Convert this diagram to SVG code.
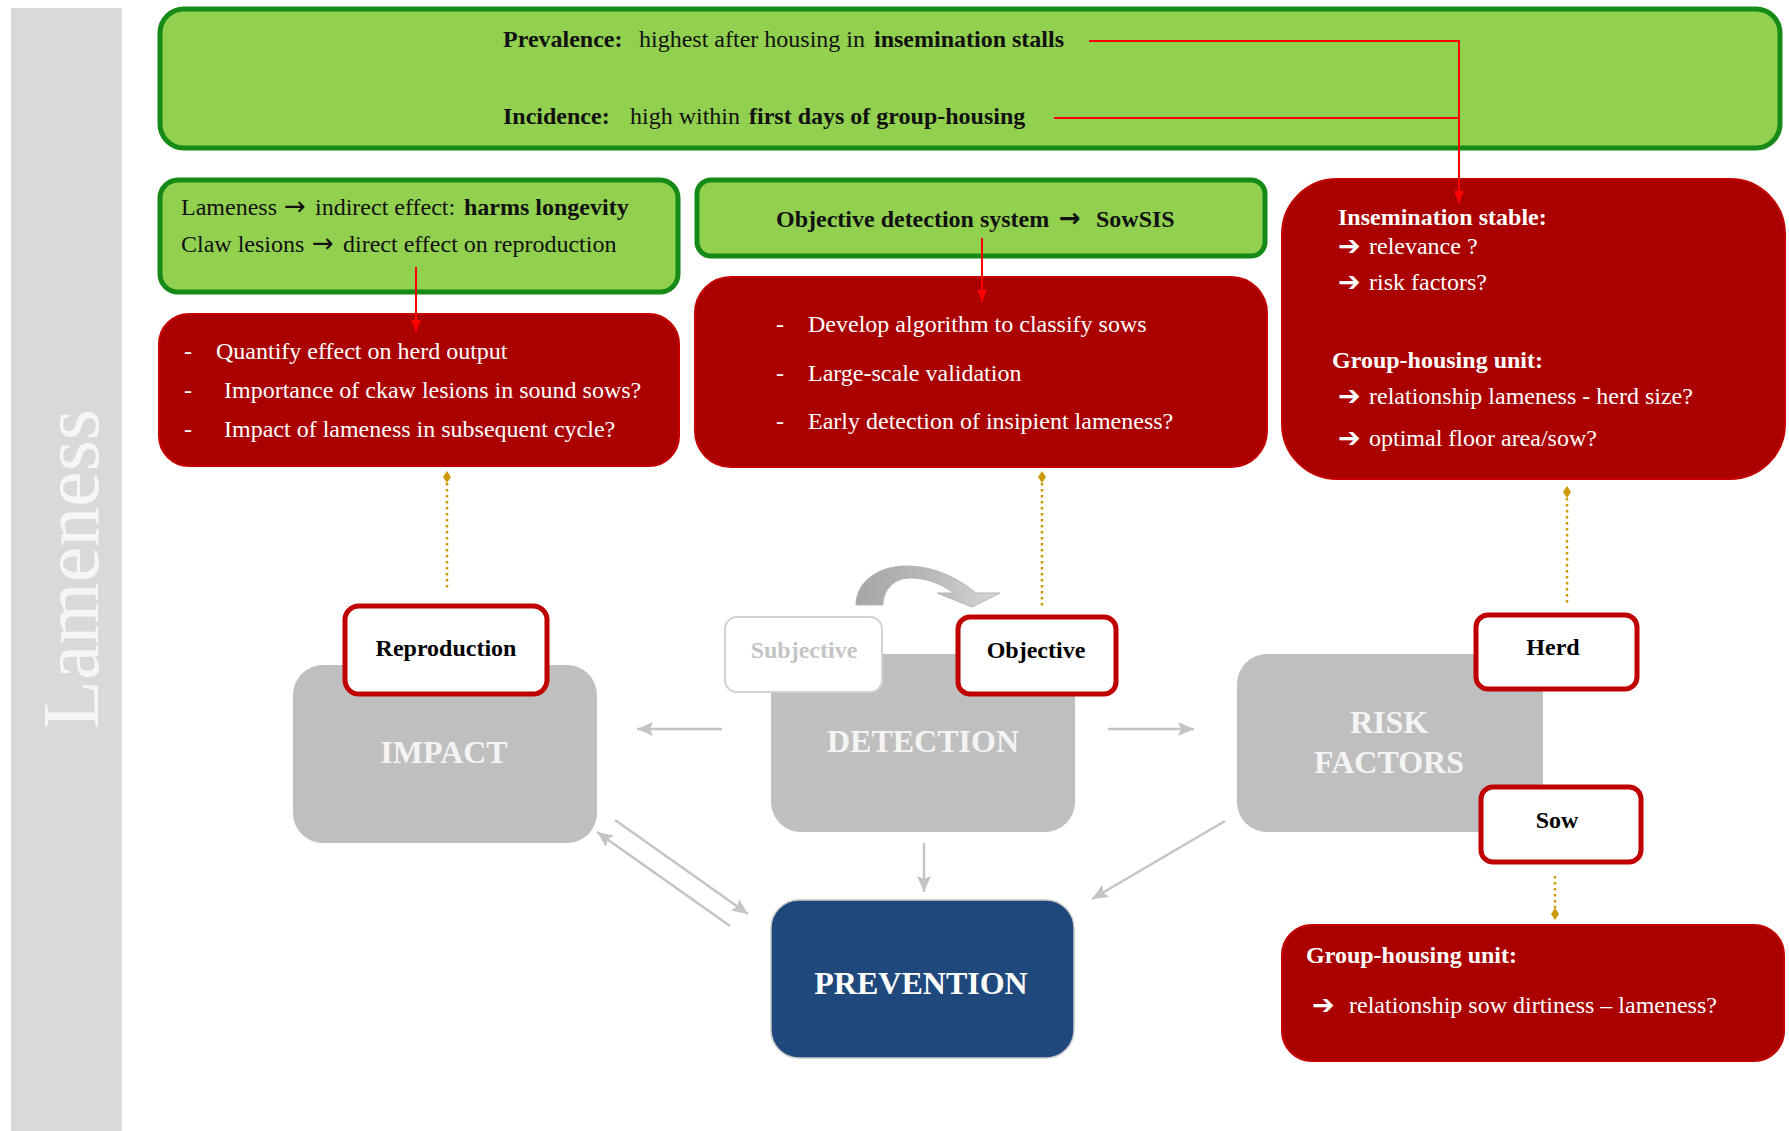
<svg xmlns="http://www.w3.org/2000/svg" width="1789" height="1131" viewBox="0 0 1789 1131">
  <style>
    text { font-family: "Liberation Serif", "Times New Roman", serif; }
    .b { font-weight: bold; }
    .green { fill: #92d050; stroke: #168a16; stroke-width: 5; }
    .red { fill: #aa0000; stroke: #c40000; stroke-width: 2; }
    .grey { fill: #bfbfbf; }
    .tag { fill: #ffffff; stroke: #c00000; stroke-width: 5; }
    .t24 { font-size: 24px; fill: #111111; }
    .w24 { font-size: 24px; fill: #ffffff; }
    .head { font-size: 32px; font-weight: bold; fill: #f4f4f4; text-anchor: middle; }
    .tagtxt { font-size: 24px; font-weight: bold; fill: #000000; text-anchor: middle; }
    .arr { font-family: "DejaVu Sans", sans-serif; font-weight: bold; font-size: 27px; fill: #ffffff; }
    .thin { font-family: "DejaVu Sans", sans-serif; font-size: 26px; }
    .redline { fill: none; stroke: #ff0000; stroke-width: 2; }
    .dot { fill: none; stroke: #cc9a06; stroke-width: 2.5; stroke-dasharray: 2.5 3.5; }
    .gline { fill: none; stroke: #c4c4c4; stroke-width: 2.5; }
  </style>
  <defs>
    <marker id="redArrow" markerUnits="userSpaceOnUse" viewBox="0 0 12 10" refX="12" refY="5" markerWidth="12" markerHeight="10" orient="auto">
      <path d="M0,0 L12,5 L0,10 z" fill="#ff0000"/>
    </marker>
    <marker id="greyArrow" markerUnits="userSpaceOnUse" viewBox="0 0 16 14" refX="16" refY="7" markerWidth="16" markerHeight="14" orient="auto">
      <path d="M0,0 L16,7 L0,14 L3,7 z" fill="#c4c4c4"/>
    </marker>
    <marker id="diamond" markerUnits="userSpaceOnUse" viewBox="-7 -5 14 10" refX="0" refY="0" markerWidth="14" markerHeight="10" orient="auto">
      <path d="M-6,0 L0,-4 L6,0 L0,4 z" fill="#cc9a06"/>
    </marker>
    <linearGradient id="curveFill" x1="0" y1="0" x2="1" y2="0">
      <stop offset="0" stop-color="#a6a6a6"/>
      <stop offset="0.5" stop-color="#b8b8b8"/>
      <stop offset="1" stop-color="#d6d6d6"/>
    </linearGradient>
  </defs>

  <rect width="1789" height="1131" fill="#ffffff"/>

  <!-- side band -->
  <g id="side-band">
    <rect x="11" y="8" width="111" height="1123" fill="#d9d9d9"/>
    <text transform="translate(98,569) rotate(-90)" font-size="80" fill="#f6f6f6" text-anchor="middle">Lameness</text>
  </g>

  <!-- top summary -->
  <g id="summary">
    <rect class="green" x="160" y="9" width="1620" height="139" rx="24"/>
    <text class="t24" y="47"><tspan class="b" x="503">Prevalence:</tspan><tspan x="639">highest after housing in </tspan><tspan class="b" x="874">insemination stalls</tspan></text>
    <text class="t24" y="124"><tspan class="b" x="503">Incidence:</tspan><tspan x="630">high within </tspan><tspan class="b" x="749">first days of group-housing</tspan></text>
  </g>

  <!-- impact notes -->
  <g id="impact-note">
    <rect class="green" x="160" y="180" width="518" height="112" rx="18"/>
    <text class="t24" y="215"><tspan x="181">Lameness</tspan><tspan class="thin" x="284">→</tspan><tspan x="315">indirect effect: </tspan><tspan class="b" x="464">harms longevity</tspan></text>
    <text class="t24" y="252"><tspan x="181">Claw lesions</tspan><tspan class="thin" x="312">→</tspan><tspan x="343">direct effect on reproduction</tspan></text>
  </g>

  <g id="impact-questions">
    <rect class="red" x="159" y="314" width="520" height="152" rx="30"/>
    <text class="w24" y="359"><tspan x="184">-</tspan><tspan x="216">Quantify effect on herd output</tspan></text>
    <text class="w24" y="398"><tspan x="184">-</tspan><tspan x="224">Importance of ckaw lesions in sound sows?</tspan></text>
    <text class="w24" y="437"><tspan x="184">-</tspan><tspan x="224">Impact of lameness in subsequent cycle?</tspan></text>
  </g>

  <!-- detection notes -->
  <g id="detection-note">
    <rect class="green" x="697" y="180" width="568" height="76" rx="14"/>
    <text class="t24 b" y="227"><tspan x="776">Objective detection system</tspan><tspan class="thin" x="1059">→</tspan><tspan x="1096">SowSIS</tspan></text>
  </g>

  <g id="detection-questions">
    <rect class="red" x="695" y="277" width="572" height="190" rx="36"/>
    <text class="w24" y="332"><tspan x="776">-</tspan><tspan x="808">Develop algorithm to classify sows</tspan></text>
    <text class="w24" y="381"><tspan x="776">-</tspan><tspan x="808">Large-scale  validation</tspan></text>
    <text class="w24" y="429"><tspan x="776">-</tspan><tspan x="808">Early detection of insipient lameness?</tspan></text>
  </g>

  <!-- herd-level questions -->
  <g id="herd-questions">
    <rect class="red" x="1282" y="179" width="503" height="300" rx="55"/>
    <text class="w24 b" x="1338" y="225">Insemination stable:</text>
    <text class="arr" x="1338" y="255">➔</text>
    <text class="w24" x="1369" y="254">relevance ?</text>
    <text class="arr" x="1338" y="291">➔</text>
    <text class="w24" x="1369" y="290">risk factors?</text>
    <text class="w24 b" x="1332" y="368">Group-housing unit:</text>
    <text class="arr" x="1338" y="405">➔</text>
    <text class="w24" x="1369" y="404">relationship lameness - herd size?</text>
    <text class="arr" x="1338" y="447">➔</text>
    <text class="w24" x="1369" y="446">optimal floor area/sow?</text>
  </g>

  <!-- sow-level questions -->
  <g id="sow-questions">
    <rect class="red" x="1282" y="925" width="502" height="136" rx="30"/>
    <text class="w24 b" x="1306" y="963">Group-housing unit:</text>
    <text class="arr" x="1312" y="1014">➔</text>
    <text class="w24" x="1349" y="1013">relationship sow dirtiness – lameness?</text>
  </g>

  <!-- central cycle -->
  <g id="impact">
    <rect class="grey" x="293" y="665" width="304" height="178" rx="30"/>
    <text class="head" x="444" y="763">IMPACT</text>
  </g>
  <g id="reproduction">
    <rect class="tag" x="345" y="606" width="202" height="88" rx="14"/>
    <text class="tagtxt" x="446" y="656">Reproduction</text>
  </g>

  <g id="detection">
    <rect class="grey" x="771" y="654" width="304" height="178" rx="30"/>
    <text class="head" x="923" y="752">DETECTION</text>
  </g>
  <g id="subjective">
    <rect x="725" y="617" width="157" height="75" rx="12" fill="#ffffff" stroke="#d2d2d2" stroke-width="2"/>
    <text class="tagtxt" x="804" y="658" style="fill:#c4c4c4">Subjective</text>
  </g>
  <g id="objective">
    <rect class="tag" x="958" y="617" width="158" height="77" rx="12"/>
    <text class="tagtxt" x="1036" y="658">Objective</text>
  </g>

  <g id="risk-factors">
    <rect class="grey" x="1237" y="654" width="306" height="178" rx="30"/>
    <text class="head" x="1389" y="733">RISK</text>
    <text class="head" x="1389" y="773">FACTORS</text>
  </g>
  <g id="herd">
    <rect class="tag" x="1476" y="615" width="161" height="74" rx="12"/>
    <text class="tagtxt" x="1553" y="655">Herd</text>
  </g>
  <g id="sow">
    <rect class="tag" x="1481" y="787" width="160" height="75" rx="12"/>
    <text class="tagtxt" x="1557" y="828">Sow</text>
  </g>

  <g id="prevention">
    <rect x="771" y="900" width="303" height="158" rx="28" fill="#1f497d" stroke="#c8c8c8" stroke-width="1.5"/>
    <text class="head" x="921" y="994" style="fill:#ffffff">PREVENTION</text>
  </g>

  <!-- connectors -->
  <g id="connectors">
    <path class="redline" d="M1089,41 H1459 V203" marker-end="url(#redArrow)"/>
    <path class="redline" d="M1054,118 H1459"/>
    <path class="redline" d="M416,267 V332" marker-end="url(#redArrow)"/>
    <path class="redline" d="M982,238 V302" marker-end="url(#redArrow)"/>

    <path class="dot" d="M447,477 V588" marker-start="url(#diamond)"/>
    <path class="dot" d="M1042,477 V607" marker-start="url(#diamond)"/>
    <path class="dot" d="M1567,492 V606" marker-start="url(#diamond)"/>
    <path class="dot" d="M1555,876 V914" marker-end="url(#diamond)"/>

    <path class="gline" d="M722,729 H637" marker-end="url(#greyArrow)"/>
    <path class="gline" d="M1108,729 H1194" marker-end="url(#greyArrow)"/>
    <path class="gline" d="M924,843 V892" marker-end="url(#greyArrow)"/>
    <path class="gline" d="M1225,821 L1092,899" marker-end="url(#greyArrow)"/>
    <path class="gline" d="M615,820 L748,914" marker-end="url(#greyArrow)"/>
    <path class="gline" d="M730,926 L597,832" marker-end="url(#greyArrow)"/>

    <!-- curved swap arrow between subjective and objective -->
    <path d="M856,605 C856,582 878,566 906,566 C934,566 958,578 976,593 L1000,593 L972,607 L937,593 L954,593 C940,583 925,578 910,578 C894,578 883,590 883,605 Z" fill="url(#curveFill)" stroke="#b4b4b4" stroke-width="1"/>
  </g>
</svg>
